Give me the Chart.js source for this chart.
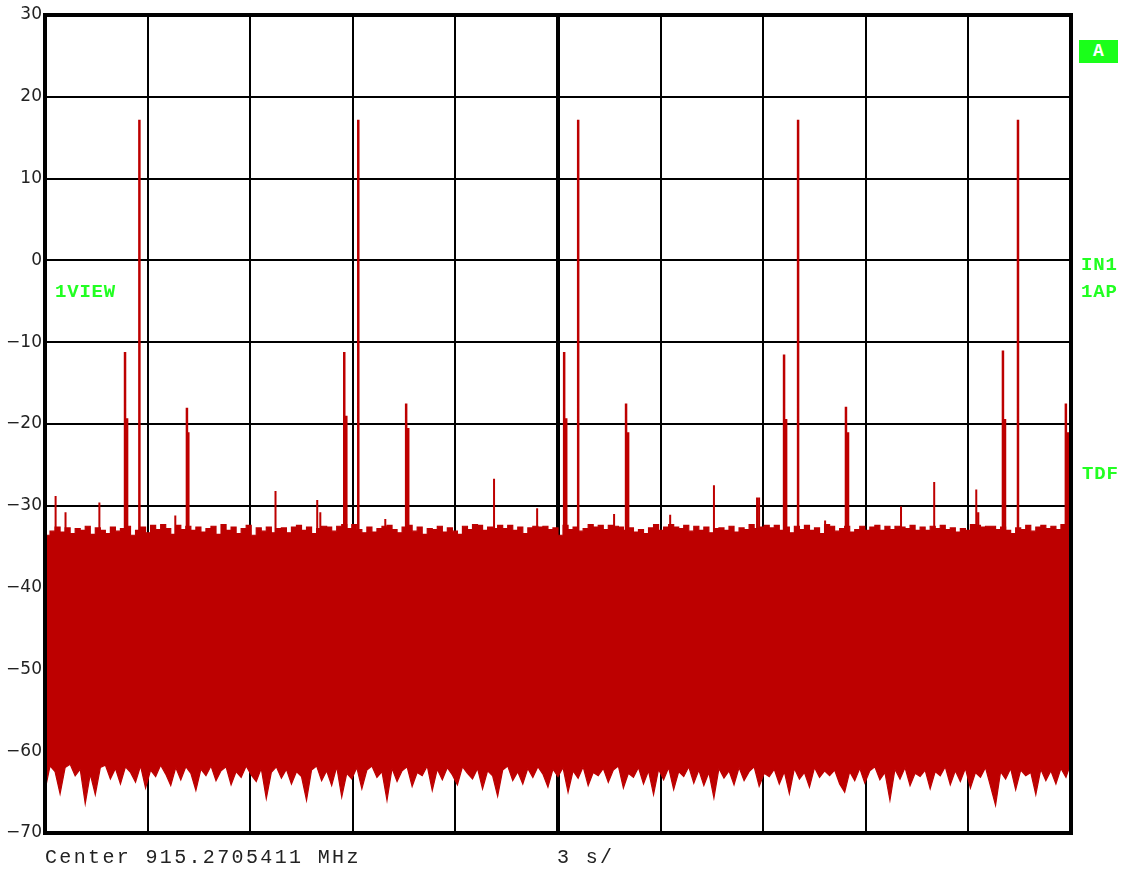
<!DOCTYPE html>
<html><head><meta charset="utf-8">
<script src="https://cdn.jsdelivr.net/npm/chart.js@4"></script>
<style>
html,body{margin:0;padding:0;background:#fff;}
#wrap{position:relative;width:1123px;height:872px;overflow:hidden;}
#c{position:absolute;left:0;top:0;}
.g{position:absolute;font-family:"Liberation Mono",monospace;font-weight:bold;font-size:19px;color:#22ff22;line-height:19px;white-space:pre;letter-spacing:0.8px;}
.bt{position:absolute;font-family:"Liberation Mono",monospace;font-size:20px;color:#222;line-height:20px;letter-spacing:2.35px;white-space:pre;}
#abox{position:absolute;left:1079px;top:40px;width:39px;height:23px;background:#1aff1a;color:#fff;font-family:"Liberation Mono",monospace;font-weight:bold;font-size:18px;line-height:23px;text-align:center;}
</style></head>
<body><div id="wrap">
<canvas id="c" width="1123" height="872"></canvas>
<div id="abox">A</div>
<div class="g" style="left:1081px;top:256px;">IN1</div>
<div class="g" style="left:1081px;top:283px;">1AP</div>
<div class="g" style="left:1082px;top:465px;">TDF</div>
<div class="g" style="left:55px;top:283px;">1VIEW</div>
<div class="bt" style="left:45px;top:848px;">Center 915.2705411 MHz</div>
<div class="bt" style="left:557px;top:848px;">3 s/</div>
</div>
<script>
// Sweep: 10 divisions x 3 s
const SWEEP = 30;
const yTicks = [-70,-60,-50,-40,-30,-20,-10,0,10,20,30];

// Upper envelope of the noise floor (dBm), uniform samples over the sweep
const upperTrace = [
-33.6,-33.1,-32.6,-33.2,-32.7,-33.4,-32.8,-33.0,-32.5,-33.5,-32.7,-33.0,-33.4,-32.6,-33.1,-32.8,-32.5,-33.6,-33.0,-32.6,
-33.3,-32.4,-32.9,-32.3,-32.8,-33.5,-32.4,-32.9,-32.5,-33.0,-32.6,-33.2,-32.8,-32.5,-33.5,-32.3,-33.0,-32.6,-33.4,-32.8,
-32.4,-33.6,-32.7,-33.1,-32.6,-33.3,-32.8,-32.7,-33.3,-32.6,-32.4,-33.0,-32.6,-33.4,-32.8,-32.5,-32.6,-33.1,-32.5,-32.3,
-32.8,-32.3,-32.9,-33.3,-32.6,-33.2,-32.8,-32.5,-32.4,-32.9,-33.3,-32.6,-32.4,-33.1,-32.6,-33.5,-32.8,-32.9,-32.5,-33.2,
-32.7,-33.1,-33.5,-32.5,-32.9,-32.3,-32.4,-33.0,-32.6,-32.8,-32.4,-32.8,-32.4,-33.0,-32.6,-33.4,-32.7,-32.5,-32.6,-32.5,
-32.9,-32.7,-33.6,-32.4,-32.9,-32.6,-33.1,-32.8,-32.3,-32.6,-32.4,-32.9,-32.4,-32.5,-32.6,-33.0,-32.7,-33.2,-32.9,-33.4,
-32.7,-32.3,-33.0,-32.6,-32.3,-32.6,-32.8,-32.4,-33.1,-32.5,-33.0,-32.6,-33.3,-32.8,-32.7,-33.0,-32.5,-33.2,-32.7,-32.9,
-32.3,-32.8,-32.6,-32.4,-32.7,-32.4,-33.0,-32.6,-33.3,-32.5,-32.9,-32.4,-33.0,-32.7,-33.4,-32.3,-32.5,-33.1,-32.8,-32.5,
-33.2,-32.9,-32.5,-33.0,-32.6,-32.4,-33.0,-32.5,-32.9,-32.5,-32.6,-32.8,-32.4,-33.0,-32.6,-33.0,-32.5,-32.8,-32.4,-32.9,
-32.7,-33.2,-32.8,-33.0,-32.3,-32.4,-32.6,-32.5,-32.5,-32.9,-32.6,-33.0,-33.4,-32.7,-32.9,-32.4,-33.1,-32.6,-32.4,-32.8,
-32.5,-32.9,-32.3,-33.4,-33.6
];

// Lower envelope of the noise floor (dBm)
const lowerTrace = [
-64.8,-61.8,-62.5,-65.2,-62.0,-61.6,-63.0,-62.2,-66.4,-62.8,-65.3,-62.0,-61.7,-63.4,-62.1,-64.0,-61.9,-62.6,-63.8,-61.8,
-64.5,-62.3,-63.1,-61.7,-62.8,-64.2,-62.0,-63.5,-61.9,-62.7,-64.8,-62.2,-63.0,-61.8,-63.6,-62.4,-61.9,-64.1,-62.5,-63.2,
-61.8,-62.9,-63.7,-62.1,-65.8,-62.6,-61.9,-63.3,-62.2,-64.0,-62.5,-63.1,-66.0,-62.3,-61.8,-63.6,-62.4,-64.2,-61.9,-65.6,
-62.7,-63.4,-62.0,-64.6,-62.3,-61.8,-63.2,-62.5,-66.0,-62.1,-63.7,-62.4,-61.9,-64.3,-62.6,-63.0,-61.8,-64.8,-62.2,-63.5,
-62.0,-62.9,-64.1,-61.9,-62.7,-63.4,-62.1,-64.6,-62.4,-63.0,-65.5,-62.3,-61.8,-63.6,-62.5,-64.0,-62.1,-63.2,-61.9,-62.8,
-64.4,-62.2,-63.1,-62.0,-65.0,-62.4,-63.3,-61.9,-64.2,-62.6,-63.0,-62.1,-63.8,-62.3,-61.8,-64.5,-62.7,-63.2,-62.0,-64.0,
-62.4,-65.3,-62.2,-63.5,-62.0,-64.7,-62.5,-63.1,-61.9,-63.9,-62.3,-64.2,-62.6,-65.7,-62.1,-63.3,-62.4,-64.1,-62.0,-63.6,
-62.5,-61.9,-64.3,-62.7,-63.1,-62.2,-64.0,-62.5,-65.2,-62.1,-63.4,-62.6,-64.4,-62.0,-63.2,-62.4,-63.0,-62.3,-64.0,-65.0,
-62.5,-63.6,-62.1,-63.9,-62.4,-61.9,-63.5,-62.6,-66.0,-62.2,-63.4,-62.0,-64.2,-62.7,-63.1,-62.3,-64.6,-62.5,-63.0,-61.9,
-64.1,-62.4,-63.7,-62.1,-64.5,-62.6,-63.2,-62.0,-64.3,-66.6,-62.5,-63.4,-62.1,-64.7,-62.3,-63.0,-62.6,-65.3,-62.2,-63.6,
-62.4,-64.0,-62.1,-63.2,-61.4
];

// Small spurs rising above the noise floor (time in s, level in dBm)
const spurTimes  = [0.31, 0.60, 1.59, 3.81, 6.74, 7.96, 8.05, 9.95, 13.13, 14.39, 16.64, 18.28, 19.56, 20.82, 20.88, 22.81, 25.03, 26.00, 27.23, 27.29];
const spurLevels = [-28.8, -30.8, -29.6, -31.2, -28.2, -29.3, -30.8, -31.6, -26.7, -30.3, -31.0, -31.1, -27.5, -29.0, -29.0, -31.8, -30.1, -27.1, -28.0, -30.8];

// Discrete signal peaks (time in s, level in dBm)
const peakTimes  = [2.34, 2.40, 2.76, 4.15, 4.19, 8.75, 8.81, 9.16, 10.56, 10.62, 15.18, 15.24, 15.59, 16.99, 17.05, 21.61, 21.67, 22.02, 23.42, 23.48, 28.01, 28.07, 28.45, 29.85, 29.91];
const peakLevels = [-11.2, -19.3, 17.2, -18.0, -21.0, -11.2, -19.0, 17.2, -17.5, -20.5, -11.2, -19.3, 17.2, -17.5, -21.0, -11.5, -19.4, 17.2, -17.9, -21.0, -11.0, -19.4, 17.2, -17.5, -21.0];
const markBase = -34;

const TRACE = '#bd0000';
const N = upperTrace.length;
const tAt = i => i * SWEEP / (N - 1);
const upperData = upperTrace.map((v, i) => ({x: tAt(i), y: v}));
const lowerData = lowerTrace.map((v, i) => ({x: tAt(i), y: v}));
function sticks(times, levels) {
  const out = [];
  times.forEach((t, k) => out.push({x: t, y: markBase}, {x: t, y: levels[k]}, {x: t, y: null}));
  return out;
}

const frame = {
  id: 'frame',
  afterDraw(chart) {
    const {ctx, chartArea: a} = chart;
    ctx.save();
    ctx.strokeStyle = '#000';
    ctx.lineWidth = 4;
    ctx.strokeRect(a.left, a.top, a.right - a.left, a.bottom - a.top);
    ctx.restore();
  }
};

new Chart(document.getElementById('c'), {
  type: 'line',
  data: {
    datasets: [
      {data: upperData, borderColor: TRACE, backgroundColor: TRACE, borderWidth: 1.2, stepped: true, fill: '+1', pointRadius: 0},
      {data: lowerData, borderColor: TRACE, backgroundColor: TRACE, borderWidth: 1.2, fill: false, pointRadius: 0},
      {data: sticks(spurTimes, spurLevels), borderColor: TRACE, borderWidth: 2, fill: false, pointRadius: 0, spanGaps: false},
      {data: sticks(peakTimes, peakLevels), borderColor: TRACE, borderWidth: 2.5, fill: false, pointRadius: 0, spanGaps: false}
    ]
  },
  options: {
    responsive: false,
    animation: false,
    events: [],
    layout: {padding: {left: 0, top: 15, right: 52, bottom: 39}},
    plugins: {legend: {display: false}, tooltip: {enabled: false}},
    scales: {
      x: {
        type: 'linear', min: 0, max: SWEEP,
        ticks: {display: false, stepSize: 3},
        grid: {color: '#000', lineWidth: c => (c.tick && c.tick.value === 15) ? 4 : 2, drawTicks: false},
        border: {display: false},
        afterFit(s) { s.height = 0; s.paddingLeft = 0; s.paddingRight = 0; }
      },
      y: {
        type: 'linear', min: -70, max: 30,
        afterBuildTicks(s) { s.ticks = yTicks.map(v => ({value: v})); },
        ticks: {
          padding: 3, color: '#222',
          font: {family: 'DejaVu Sans', size: 17},
          callback: v => String(v).replace('-', '\u2212')
        },
        grid: {color: '#000', lineWidth: 2, drawTicks: false},
        border: {display: false},
        afterFit(s) { s.width = 45; s.paddingTop = 0; s.paddingBottom = 0; }
      }
    }
  },
  plugins: [frame]
});
</script>
</body></html>
